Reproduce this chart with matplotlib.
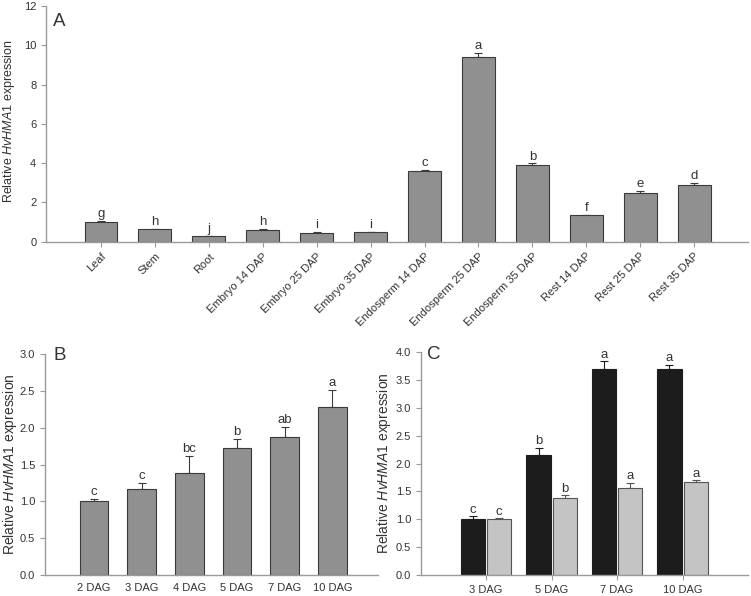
import numpy as np
import matplotlib
matplotlib.use('Agg')
import matplotlib.pyplot as plt

plt.rcParams['font.family'] = ['Liberation Sans', 'DejaVu Sans']
plt.rcParams['mathtext.fontset'] = 'custom'
plt.rcParams['mathtext.rm'] = 'Liberation Sans'
plt.rcParams['mathtext.it'] = 'Liberation Sans:italic'

# Panel A: tissues
tissues = ['Leaf', 'Stem', 'Root', 'Embryo 14 DAP', 'Embryo 25 DAP',
           'Embryo 35 DAP', 'Endosperm 14 DAP', 'Endosperm 25 DAP',
           'Endosperm 35 DAP', 'Rest 14 DAP', 'Rest 25 DAP', 'Rest 35 DAP']
tissue_expr = [1.0, 0.63, 0.27, 0.58, 0.46, 0.47, 3.6, 9.38, 3.9, 1.35, 2.46, 2.9]
tissue_err = [0.04, 0.02, 0.01, 0.05, 0.02, 0.01, 0.04, 0.25, 0.08, 0.02, 0.12, 0.08]
tissue_letters = ['g', 'h', 'j', 'h', 'i', 'i', 'c', 'a', 'b', 'f', 'e', 'd']

# Panel B: germination time course
days_b = ['2 DAG', '3 DAG', '4 DAG', '5 DAG', '7 DAG', '10 DAG']
expr_b = [1.0, 1.17, 1.38, 1.73, 1.87, 2.28]
err_b = [0.03, 0.08, 0.24, 0.12, 0.14, 0.23]
letters_b = ['c', 'c', 'bc', 'b', 'ab', 'a']

# Panel C: two series
days_c = ['3 DAG', '5 DAG', '7 DAG', '10 DAG']
expr_c_dark = [1.0, 2.15, 3.7, 3.69]
err_c_dark = [0.05, 0.13, 0.13, 0.08]
letters_c_dark = ['c', 'b', 'a', 'a']
expr_c_light = [1.0, 1.38, 1.56, 1.66]
err_c_light = [0.02, 0.05, 0.09, 0.04]
letters_c_light = ['c', 'b', 'a', 'a']

ylab = r'Relative $\it{HvHMA1}$ expression'
spine_col = '#9a9a9a'
txt_col = '#333333'


def style_axes(ax):
    for s in ['top', 'right']:
        ax.spines[s].set_visible(False)
    for s in ['left', 'bottom']:
        ax.spines[s].set_color(spine_col)
        ax.spines[s].set_linewidth(1.0)
    ax.tick_params(axis='both', colors=spine_col, labelcolor=txt_col,
                   labelsize=8, length=3.5, width=0.8, direction='out')


def bars_with_letters(ax, x, vals, errs, letters, width, color, edge, pad):
    ax.bar(x, vals, width, color=color, edgecolor=edge, linewidth=0.8, zorder=2)
    ax.errorbar(x, vals, yerr=[np.zeros(len(vals)), errs], fmt='none',
                ecolor=edge, elinewidth=0.8, capsize=3, capthick=0.8, zorder=1)
    for xi, v, e, t in zip(x, vals, errs, letters):
        ax.text(xi, v + e + pad, t, ha='center', va='bottom', fontsize=9.5,
                color=txt_col)


fig = plt.figure(figsize=(7.51, 5.96), dpi=100)

# ---- A
axA = fig.add_axes([0.0613, 0.5945, 0.9347, 0.3955])
xa = np.arange(len(tissues))
bars_with_letters(axA, xa, tissue_expr, tissue_err, tissue_letters, 0.61,
                  '#909090', '#3a3a3a', 0.05)
axA.set_xlim(-1.02, 12.0)
axA.set_ylim(0, 12)
axA.set_yticks(range(0, 13, 2))
axA.set_xticks(xa)
axA.set_xticklabels(tissues, rotation=45, ha='right', rotation_mode='anchor',
                    fontsize=8.5)
style_axes(axA)
axA.set_ylabel(ylab, fontsize=9, color=txt_col)
axA.yaxis.set_label_coords(-0.041, 0.51)
axA.text(0.01, 0.935, 'A', transform=axA.transAxes, fontsize=13.5,
         color=txt_col, ha='left', va='center')

# ---- B
axB = fig.add_axes([0.0599, 0.0352, 0.4431, 0.3708])
xb = np.arange(len(days_b))
bars_with_letters(axB, xb, expr_b, err_b, letters_b, 0.6,
                  '#909090', '#3a3a3a', 0.01)
axB.set_xlim(-1.03, 5.95)
axB.set_ylim(0, 3.0)
axB.set_yticks(np.arange(0, 3.01, 0.5))
axB.set_yticklabels(['%.1f' % v for v in np.arange(0, 3.01, 0.5)])
axB.set_xticks(xb)
axB.set_xticklabels(days_b)
style_axes(axB)
axB.tick_params(axis='x', length=0, pad=6)
axB.set_ylabel(ylab, fontsize=10, color=txt_col)
axB.yaxis.set_label_coords(-0.078, 0.5)
axB.text(0.025, 0.995, 'B', transform=axB.transAxes, fontsize=13.5,
         color=txt_col, ha='left', va='center')

# ---- C
axC = fig.add_axes([0.5602, 0.0352, 0.4358, 0.3742])
xc = np.arange(len(days_c))
off = 0.2
bars_with_letters(axC, xc - off, expr_c_dark, err_c_dark, letters_c_dark, 0.37,
                  '#1c1c1c', '#1c1c1c', 0.01)
bars_with_letters(axC, xc + off, expr_c_light, err_c_light, letters_c_light, 0.37,
                  '#c4c4c4', '#555555', 0.01)
axC.set_xlim(-1.0, 4.0)
axC.set_ylim(0, 4.0)
axC.set_yticks(np.arange(0, 4.01, 0.5))
axC.set_yticklabels(['%.1f' % v for v in np.arange(0, 4.01, 0.5)])
axC.set_xticks(xc)
axC.set_xticklabels(days_c)
style_axes(axC)
axC.tick_params(axis='x', pad=4)
axC.set_ylabel(ylab, fontsize=10, color=txt_col)
axC.yaxis.set_label_coords(-0.086, 0.5)
axC.text(0.02, 0.99, 'C', transform=axC.transAxes, fontsize=13.5,
         color=txt_col, ha='left', va='center')

fig.savefig('out.png', dpi=100)
